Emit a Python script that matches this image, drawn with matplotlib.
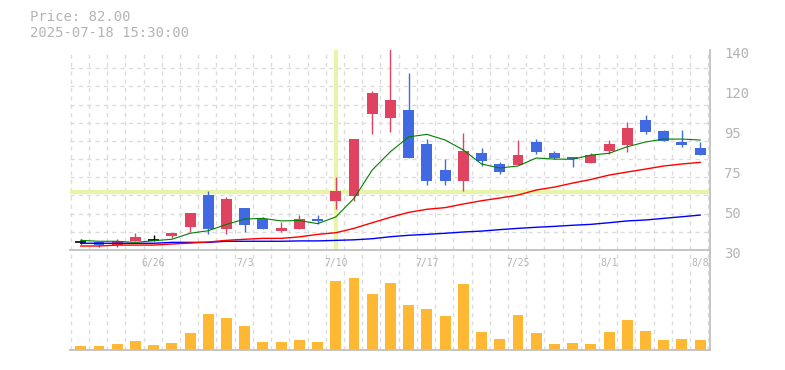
import matplotlib
matplotlib.use("Agg")
import matplotlib.pyplot as plt
import matplotlib.transforms as mtransforms
import numpy as np

# trading days 6/20 .. 8/8
dates = ["6/20", "6/23", "6/24", "6/25", "6/26", "6/27", "6/30", "7/1", "7/2", "7/3",
         "7/4", "7/7", "7/8", "7/9", "7/10", "7/11", "7/14", "7/15", "7/16", "7/17",
         "7/18", "7/22", "7/23", "7/24", "7/25", "7/28", "7/29", "7/30", "7/31", "8/1",
         "8/4", "8/5", "8/6", "8/7", "8/8"]
opens = [34.2, 34.6, 32.8, 35.0, 35.7, 37.7, 42.6, 60.2, 41.6, 53.1,
         47.0, 40.4, 41.6, 47.0, 57.0, 59.9, 105.0, 102.8, 107.0, 88.3,
         74.0, 68.1, 83.4, 77.3, 76.8, 89.4, 83.4, 81.2, 77.8, 84.4,
         87.8, 101.5, 95.4, 89.4, 86.3]
highs = [35.9, 34.6, 36.0, 39.5, 38.1, 39.5, 50.4, 62.4, 59.2, 53.1,
         48.2, 45.4, 49.2, 49.2, 70.3, 91.0, 117.4, 141.0, 127.4, 91.0,
         80.0, 94.4, 86.1, 78.4, 90.5, 91.0, 84.4, 81.2, 83.4, 90.5,
         100.4, 104.2, 96.0, 96.0, 89.4]
lows = [33.2, 31.8, 31.7, 35.0, 34.8, 36.6, 39.7, 39.0, 39.0, 39.9,
        41.6, 39.9, 41.6, 44.3, 52.6, 57.0, 94.0, 95.1, 80.8, 65.8,
        65.8, 62.6, 76.2, 72.0, 76.8, 82.8, 80.0, 75.6, 77.8, 82.8,
        83.9, 93.8, 90.0, 86.6, 82.0]
closes = [34.2, 32.9, 35.0, 37.2, 35.7, 39.5, 50.4, 41.6, 58.0, 43.8,
          41.6, 42.1, 47.0, 46.0, 62.4, 91.0, 116.4, 112.5, 80.8, 68.1,
          68.1, 84.4, 79.1, 73.1, 82.2, 83.9, 80.6, 79.9, 82.1, 88.3,
          97.1, 94.9, 90.0, 87.8, 82.0]
volumes = [41, 32, 52, 83, 50, 62, 165, 360, 318, 246,
           72, 82, 93, 82, 700, 730, 566, 680, 452, 412,
           340, 670, 175, 103, 350, 165, 52, 62, 52, 175,
           298, 185, 93, 103, 93]
ma_short = [35.3, 34.8, 34.8, 34.2, 35.1, 35.9, 39.2, 40.6, 44.1, 47.0,
            47.4, 46.0, 46.2, 44.5, 48.2, 58.4, 74.0, 84.1, 92.2, 93.6,
            90.5, 85.0, 77.3, 75.1, 76.2, 80.6, 80.0, 79.9, 82.2, 83.2,
            86.8, 89.4, 91.0, 91.0, 90.5]
ma_mid = [32.2, 32.2, 32.7, 32.7, 32.7, 33.3, 33.8, 34.4, 35.3, 35.9,
          36.4, 36.4, 37.2, 38.6, 39.5, 41.9, 45.0, 48.0, 50.7, 52.4,
          53.3, 55.3, 57.1, 58.6, 60.2, 63.0, 64.6, 66.8, 68.8, 71.2,
          72.9, 74.5, 76.2, 77.3, 78.2]
ma_long = [33.7, 33.7, 33.7, 33.7, 33.7, 34.2, 34.2, 34.2, 34.8, 34.8,
           34.8, 34.8, 35.0, 35.0, 35.3, 35.6, 36.2, 37.3, 38.1, 38.6,
           39.2, 39.9, 40.4, 41.2, 41.9, 42.5, 43.0, 43.6, 44.1, 45.0,
           46.0, 46.5, 47.4, 48.3, 49.2]
ytick_pos = [30, 52, 74, 96, 118, 140]
ytick_labels = ["30", "50", "75", "95", "120", "140"]
label_idx = [4, 9, 14, 19, 24, 29, 34]
cross_idx = 14
cross_price = 62

UP = "#e0435f"
DOWN = "#4169e1"
GRID = "#dcdcdc"
SPINE = "#c0c0c0"
TEXT = "#b4b4b4"
plt.rcParams["font.family"] = ["DejaVu Sans Mono"]

W, H = 785, 370
fig = plt.figure(figsize=(W / 100, H / 100), dpi=100)
x0, x1 = 70 / W, 710 / W
ax_v = fig.add_axes([x0, 1 - 349.5 / H, x1 - x0, 99.5 / H])
ax = fig.add_axes([x0, 1 - 250 / H, x1 - x0, 200 / H])

x = np.arange(len(dates))
xlim = (-0.59, 34.54)
grid_x = np.arange(-0.55, 34.6, 1)

# volume
ax_v.bar(x, volumes, width=0.6, color="#ffb833", zorder=2)
ax_v.set_xlim(*xlim)
ax_v.set_ylim(0, 1020)
ax_v.set_xticks(grid_x, minor=True)
ax_v.set_xticks([])
ax_v.set_yticks([])
ax_v.grid(which="minor", axis="x", color=GRID, linestyle=(0, (3, 3)), lw=1)
ax_v.tick_params(which="both", length=0)
for s in ["left", "top"]:
    ax_v.spines[s].set_visible(False)
for s in ["right", "bottom"]:
    ax_v.spines[s].set_color(SPINE)
    ax_v.spines[s].set_linewidth(1.3)

# price
ax.axvline(cross_idx, color="#e6f5a8", lw=3, zorder=1.5)
ax.axhline(cross_price, color="#e6f5a8", lw=3, zorder=1.5)
for i in x:
    o, h, l, c = opens[i], highs[i], lows[i], closes[i]
    if c > o:
        col = UP
    elif c < o:
        col = DOWN
    else:
        col = "black"
    ax.vlines(i, l, h, color=col, lw=1, zorder=3)
    if c == o:
        ax.hlines(c, i - 0.3, i + 0.3, color=col, lw=1.2, zorder=3)
    else:
        ax.bar(i, abs(c - o), bottom=min(o, c), width=0.6, color=col, zorder=3)

ax.plot(x, ma_long, color="#0000ff", lw=1.0, zorder=4)
ax.plot(x, ma_mid, color="#ff0000", lw=1.0, zorder=4)
ax.plot(x, ma_short, color="#008000", lw=0.8, zorder=4)

ax.set_xlim(*xlim)
ax.set_ylim(30, 140)
ax.set_xticks(label_idx)
ax.set_xticklabels([dates[i] for i in label_idx])
ax.set_xticks(grid_x, minor=True)
ax.set_yticks(ytick_pos)
ax.set_yticklabels(ytick_labels)
ax.set_yticks(np.arange(30, 141, 10), minor=True)
ax.yaxis.tick_right()
ax.grid(which="minor", color=GRID, linestyle=(0, (3, 3)), lw=1)
ax.tick_params(which="both", length=0)
ax.tick_params(axis="x", pad=6, labelsize=7, labelcolor=TEXT)
ax.tick_params(axis="y", pad=10, labelsize=10, labelcolor=TEXT)
shift = mtransforms.ScaledTranslation(0, -2.5 / 100, fig.dpi_scale_trans)
for lab in ax.get_yticklabels():
    lab.set_transform(lab.get_transform() + shift)
for s in ["left", "top"]:
    ax.spines[s].set_visible(False)
for s in ["right", "bottom"]:
    ax.spines[s].set_color(SPINE)
    ax.spines[s].set_linewidth(1.3)
ax.set_axisbelow(True)

fig.text(30 / W, 1 - 17 / H, "Price: 82.00", color=TEXT, fontsize=10, va="center")
fig.text(30 / W, 1 - 33 / H, "2025-07-18 15:30:00", color=TEXT, fontsize=10, va="center")

fig.savefig("out.png", dpi=100)
